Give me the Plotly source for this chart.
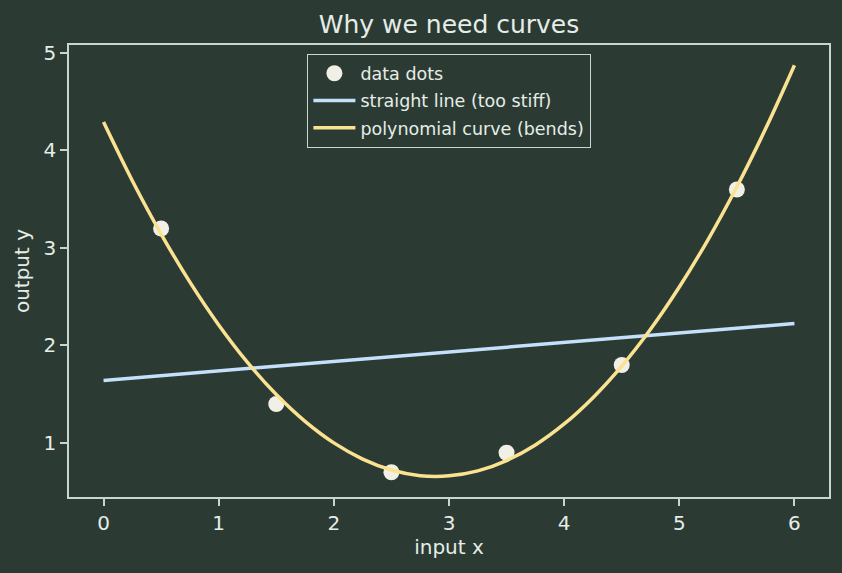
import plotly.graph_objects as go

# data dots
dot_x = [0.5, 1.5, 2.5, 3.5, 4.5, 5.5]
dot_y = [3.2, 1.4, 0.7, 0.9, 1.8, 3.6]

# straight line (too stiff)
line_x = [0, 6]
line_y = [1.642, 2.225]

# polynomial curve (bends)
curve_x = [0, 0.25, 0.5, 0.75, 1.0, 1.25, 1.5, 1.75, 2.0, 2.25, 2.5, 2.75, 3.0,
           3.25, 3.5, 3.75, 4.0, 4.25, 4.5, 4.75, 5.0, 5.25, 5.5, 5.75, 6.0]
curve_y = [4.292, 3.690, 3.143, 2.650, 2.211, 1.827, 1.497, 1.222, 1.001, 0.835,
           0.723, 0.665, 0.663, 0.714, 0.820, 0.980, 1.195, 1.465, 1.789, 2.167,
           2.600, 3.087, 3.628, 4.225, 4.875]

x_ticks = [0, 1, 2, 3, 4, 5, 6]
y_ticks = [1, 2, 3, 4, 5]

BG = "#2b3b34"
FG = "#e6ede6"
FRAME = "#c9d6cc"
FONT = "DejaVu Sans"

fig = go.Figure()
fig.add_trace(go.Scatter(x=dot_x, y=dot_y, mode="markers", name="data dots",
                         legendgroup="a",
                         marker=dict(color="#f1f0e6", size=16, line=dict(width=0))))
fig.add_trace(go.Scatter(x=line_x, y=line_y, mode="lines", name="straight line (too stiff)",
                         legendgroup="b",
                         line=dict(color="#c4e0fb", width=3.5)))
fig.add_trace(go.Scatter(x=curve_x, y=curve_y, mode="lines", name="polynomial curve (bends)",
                         legendgroup="c",
                         line=dict(color="#fbe291", width=3.5, shape="spline")))

axis_common = dict(showline=True, mirror=True, linecolor=FRAME, linewidth=1.6,
                   ticks="outside", ticklen=7, tickwidth=1.6, tickcolor=FRAME,
                   showgrid=False, zeroline=False,
                   tickfont=dict(family=FONT, size=20, color=FG))

fig.update_layout(
    width=842, height=573,
    paper_bgcolor=BG, plot_bgcolor=BG,
    margin=dict(l=69, r=13, t=45, b=76),
    font=dict(family=FONT, color=FG),
    title=dict(text="Why we need curves", x=449 / 842, xanchor="center",
               y=1 - 24 / 573, yanchor="middle",
               font=dict(family=FONT, size=25, color=FG)),
    xaxis=dict(range=[-0.3, 6.3], tickvals=x_ticks,
               title=dict(text="input x", font=dict(family=FONT, size=20, color=FG), standoff=6),
               **axis_common),
    yaxis=dict(range=[0.446, 5.082], tickvals=y_ticks,
               title=dict(text="output y", font=dict(family=FONT, size=20, color=FG), standoff=8),
               **axis_common),
    legend=dict(x=0.5, xanchor="center", y=(497 - 54) / 452, yanchor="top",
                bgcolor=BG, bordercolor=FRAME, borderwidth=1.4,
                font=dict(family=FONT, size=17.5, color=FG),
                tracegroupgap=1.5, itemwidth=42),
    showlegend=True,
)

fig.write_html("out.html")
